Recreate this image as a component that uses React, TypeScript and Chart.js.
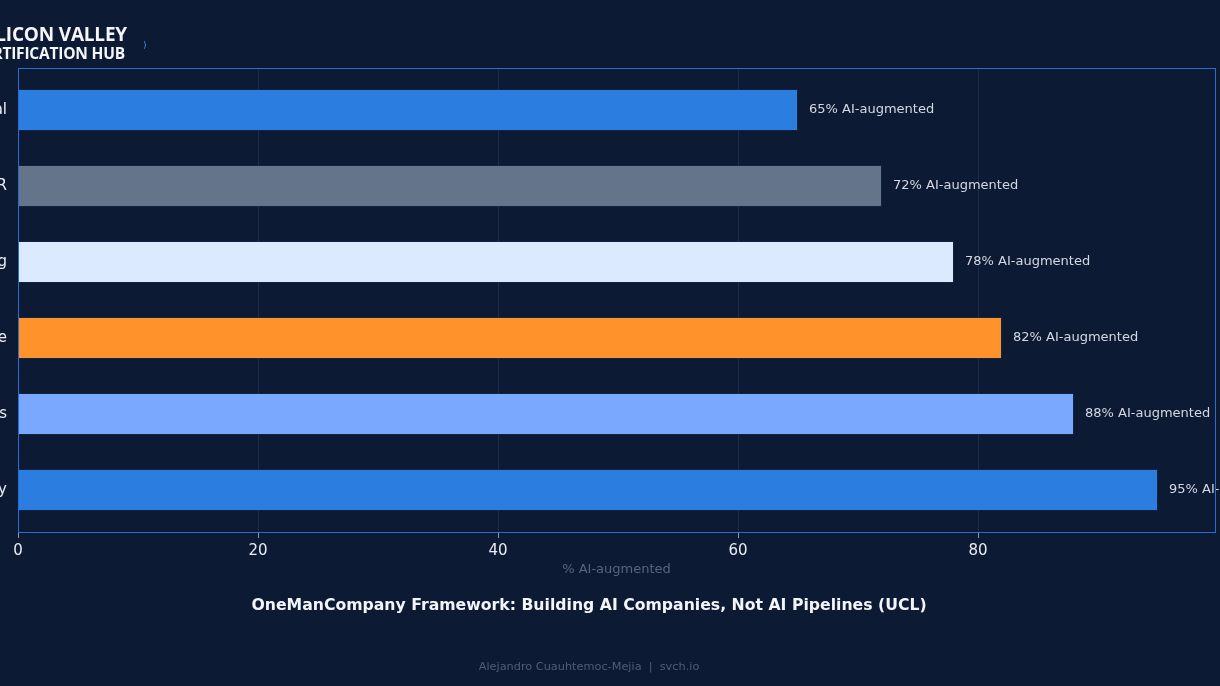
import React, { useEffect, useRef } from "react";
import { Chart, registerables } from "chart.js";
Chart.register(...registerables);

const categories = ["Legal", "HR", "Marketing", "Finance", "Operations", "Strategy"];
const aiAugmented = [65, 72, 78, 82, 88, 95];
const barColors = ["#2b7de0", "#64748b", "#dbeafe", "#ff922b", "#7aa8ff", "#2b7de0"];
const xTicks = [0, 20, 40, 60, 80];
const xMax = 99.75;
const valueSuffix = "% AI-augmented";
const xAxisTitle = "% AI-augmented";
const chartTitle = "OneManCompany Framework: Building AI Companies, Not AI Pipelines (UCL)";
const footerText = "Alejandro Cuauhtemoc-Mejia  |  svch.io";

const BG = "#0d1a34";
const FONT = "'DejaVu Sans', sans-serif";

const CANVAS_LEFT = -160;
const CANVAS_W = 1498;
const CANVAS_H = 686;
const Y_AXIS_W = 178;
const X_AXIS_H = 60;

export default function App() {
  const ref = useRef<HTMLCanvasElement | null>(null);

  useEffect(() => {
    document.body.style.background = BG;
    const canvas = ref.current;
    if (!canvas) return;

    const overlay = {
      id: "overlay",
      beforeDraw(chart: any) {
        const { ctx, width, height } = chart;
        ctx.save();
        ctx.fillStyle = BG;
        ctx.fillRect(0, 0, width, height);
        ctx.restore();
      },
      afterDatasetsDraw(chart: any) {
        const { ctx } = chart;
        const meta = chart.getDatasetMeta(0);
        ctx.save();
        ctx.font = `13px ${FONT}`;
        ctx.fillStyle = "#d3d9e3";
        ctx.textAlign = "left";
        ctx.textBaseline = "middle";
        meta.data.forEach((el: any, i: number) => {
          ctx.fillText(`${aiAugmented[i]}${valueSuffix}`, el.x + 11, el.y);
        });
        ctx.restore();
      },
      afterDraw(chart: any) {
        const { ctx, chartArea, width } = chart;
        ctx.save();
        ctx.strokeStyle = "#2b6cd0";
        ctx.lineWidth = 1;
        ctx.strokeRect(
          Math.round(chartArea.left) + 0.5,
          Math.round(chartArea.top) + 0.5,
          Math.round(chartArea.right - chartArea.left),
          Math.round(chartArea.bottom - chartArea.top)
        );
        ctx.textAlign = "center";
        ctx.textBaseline = "middle";
        ctx.fillStyle = "#f2f5fa";
        ctx.font = `bold 15.7px ${FONT}`;
        ctx.fillText(chartTitle, width / 2, 606);
        ctx.fillStyle = "#4e5d7a";
        ctx.font = `11.3px ${FONT}`;
        ctx.fillText(footerText, width / 2, 667);
        ctx.restore();
      },
    };

    const chart = new Chart(canvas, {
      type: "bar",
      data: {
        datasets: [
          {
            label: xAxisTitle,
            data: aiAugmented.map((v, i) => ({ x: v, y: i })),
            backgroundColor: barColors,
            borderColor: "rgba(22,44,84,0.45)",
            borderWidth: 1,
            categoryPercentage: 1,
            barPercentage: 0.55,
          },
        ],
      },
      options: {
        indexAxis: "y",
        animation: false,
        responsive: true,
        maintainAspectRatio: false,
        layout: { padding: { top: 68, right: 123, bottom: CANVAS_H - 532 - X_AXIS_H, left: 0 } },
        plugins: {
          legend: { display: false },
          tooltip: { enabled: false },
          title: { display: false },
        },
        scales: {
          x: {
            type: "linear",
            min: 0,
            max: xMax,
            offset: false,
            afterBuildTicks: (scale: any) => {
              scale.ticks = xTicks.map((v) => ({ value: v }));
            },
            afterFit: (scale: any) => {
              scale.height = X_AXIS_H;
            },
            grid: {
              display: true,
              offset: false,
              color: "#1a2b4c",
              drawTicks: true,
              tickLength: 6,
              tickColor: "#8a96ab",
            },
            border: { display: false },
            ticks: {
              color: "#e8edf5",
              font: { family: FONT, size: 15 },
              padding: 4,
              maxRotation: 0,
            },
            title: {
              display: true,
              text: xAxisTitle,
              color: "#56657f",
              font: { family: FONT, size: 13 },
              padding: { top: 4, bottom: 15 },
            },
          },
          y: {
            type: "linear",
            reverse: true,
            offset: false,
            min: -0.5526,
            max: 5.5526,
            afterBuildTicks: (scale: any) => {
              scale.ticks = categories.map((_, i) => ({ value: i }));
            },
            afterFit: (scale: any) => {
              scale.width = Y_AXIS_W;
            },
            grid: { display: false, drawTicks: false, offset: false },
            border: { display: false },
            ticks: {
              color: "#e8edf5",
              font: { family: FONT, size: 15 },
              padding: 11,
              callback: (value: any) => categories[Math.round(Number(value))] ?? "",
            },
          },
        },
      },
      plugins: [overlay],
    });

    return () => chart.destroy();
  }, []);

  return (
    <div
      style={{
        position: "absolute",
        left: 0,
        top: 0,
        width: 1220,
        height: CANVAS_H,
        overflow: "hidden",
        background: BG,
      }}
    >
      <div
        style={{
          position: "absolute",
          left: CANVAS_LEFT,
          top: 0,
          width: CANVAS_W,
          height: CANVAS_H,
        }}
      >
        <canvas ref={ref} />
      </div>
      <div
        style={{
          position: "absolute",
          left: -80,
          top: 0,
          width: 223,
          height: 68,
          background: BG,
          fontFamily: "'Open Sans', sans-serif",
          fontWeight: 700,
          color: "#f4f6fa",
        }}
      >
        <div
          style={{
            position: "absolute",
            right: 16,
            top: 22,
            fontSize: 19,
            lineHeight: "24px",
            whiteSpace: "nowrap",
            letterSpacing: "-0.2px",
          }}
        >
          SILICON VALLEY
        </div>
        <div
          style={{
            position: "absolute",
            right: 18,
            top: 43,
            fontSize: 15.5,
            lineHeight: "20px",
            whiteSpace: "nowrap",
            letterSpacing: "-0.2px",
          }}
        >
          CERTIFICATION HUB
        </div>
      </div>
      <div
        style={{
          position: "absolute",
          left: 143,
          top: 40,
          fontFamily: "'DejaVu Sans', sans-serif",
          fontSize: 9,
          color: "#4a8af0",
        }}
      >
        )
      </div>
    </div>
  );
}
